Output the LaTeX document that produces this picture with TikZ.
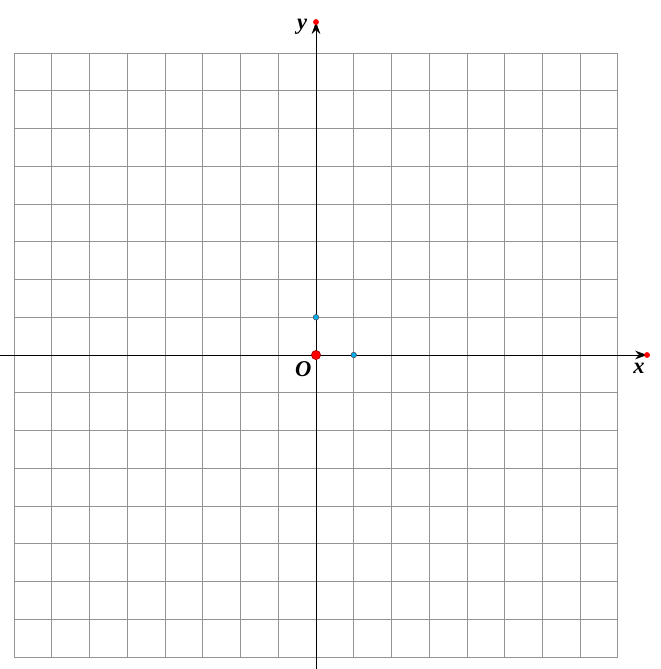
\documentclass[tikz,border=0pt]{standalone}
\usepackage{fontspec}
\setmainfont{Liberation Serif}
\usetikzlibrary{arrows.meta}
\begin{document}
\begin{tikzpicture}
        \useasboundingbox (-8.371,-8.318) rectangle (9.113,9.404);
        % Grid
        \draw[gray!85, line width=0.75pt] (-8,-8) grid (8,8);
        
        % Axes
        \coordinate (xend) at (8.77,0);
        \coordinate (yend) at (0,8.82);
        \draw[line width=0.6pt, -{Stealth[length=9pt,width=6.5pt]}] (-8.371,0) -- (xend);
        \draw[line width=0.6pt, -{Stealth[length=9pt,width=6.5pt]}] (0,-8.318) -- (yend);
        \fill[red] (xend) circle (2.2pt);
        \fill[red] (yend) circle (2.2pt);
        
        % Labels
        \node (xlab) at (8.56,-0.34) {\fontsize{17}{17}\selectfont\bfseries\itshape x};
        \node (ylab) at (-0.37,8.69) {\fontsize{17}{17}\selectfont\bfseries\itshape y};
        \node (olab) at (-0.34,-0.37) {\fontsize{17}{17}\selectfont\bfseries\itshape O};
        
        % Points
        \node[circle, fill=red, draw=red!60!black, inner sep=0pt, minimum size=7pt] (o) at (0,0) {};
        \node[circle, fill=cyan, draw=black!70, line width=0.4pt, inner sep=0pt, minimum size=4.2pt] (e1) at (1,0) {};
        \node[circle, fill=cyan, draw=black!70, line width=0.4pt, inner sep=0pt, minimum size=4.2pt] (e2) at (0,1) {};
    \end{tikzpicture}
\end{document}
